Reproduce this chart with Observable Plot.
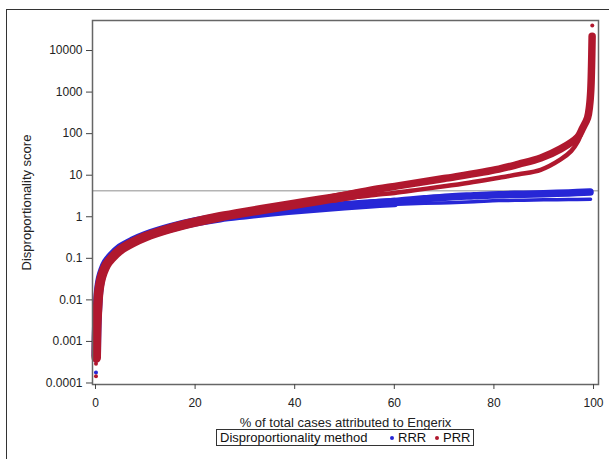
<!DOCTYPE html>
<html>
<head>
<meta charset="utf-8">
<script src="https://cdn.jsdelivr.net/npm/d3@7"></script>
<script src="https://cdn.jsdelivr.net/npm/@observablehq/plot@0.6"></script>
<style>
  html, body { margin: 0; padding: 0; background: #fff; }
  body { font-family: "Liberation Sans", Arial, sans-serif; }
  #wrap { position: relative; width: 609px; height: 459px; overflow: hidden; }
  #border { position: absolute; left: 6px; top: 9px; width: 640px; height: 480px; border: 1px solid #333; box-sizing: border-box; pointer-events: none; }
  #chart { position: absolute; left: 0; top: 0; }
  #legend { position: absolute; left: 216px; top: 429px; width: 258px; height: 17px; border: 1px solid #333; box-sizing: border-box; font-size: 13px; color: #111; background: #fff; }
  #legend span { position: absolute; top: 0px; line-height: 15px; white-space: nowrap; }
  #legend .dot { width: 4px; height: 4px; border-radius: 50%; top: 6px; }
</style>
</head>
<body>
<div id="wrap">
  <div id="chart"></div>
  <div id="border"></div>
  <div id="legend"></div>
</div>
<script>
// ---------- data ----------
const seriesNames = ["RRR", "PRR"];
const seriesColors = ["#2727d6", "#b0182e"];
const legendTitle = "Disproportionality method";
const xLabel = "% of total cases attributed to Engerix";
const yLabel = "Disproportionality score";

const xTicks = [0, 20, 40, 60, 80, 100];
const yTicks = [0.0001, 0.001, 0.01, 0.1, 1, 10, 100, 1000, 10000];
const yTickLabels = ["0.0001", "0.001", "0.01", "0.1", "1", "10", "100", "1000", "10000"];
const referenceLine = 4.24;

// RRR (blue)
const rrrMainX = [0.15, 0.2, 0.3, 0.45, 0.65, 1, 1.5, 2.2, 3.2, 5, 7.5, 10, 15, 20, 25, 30, 35, 40, 45, 50, 55, 60];
const rrrMainY = [0.00045, 0.0012, 0.0035, 0.008, 0.017, 0.032, 0.051, 0.079, 0.112, 0.178, 0.26, 0.35, 0.54, 0.75, 0.95, 1.12, 1.3, 1.47, 1.65, 1.85, 2.03, 2.2];
const rrrUpperX = [55, 58, 62, 66, 71, 76, 81, 86, 90, 95, 99.3];
const rrrUpperY = [2.1, 2.25, 2.45, 2.7, 3.0, 3.2, 3.4, 3.5, 3.6, 3.75, 3.92];
const rrrLowerX = [56, 58, 62, 66, 71, 76, 81, 86, 90, 95, 99.4];
const rrrLowerY = [1.9, 1.95, 2.02, 2.1, 2.18, 2.3, 2.45, 2.5, 2.55, 2.6, 2.64];
const rrrDotsX = [0.1, 0.1];
const rrrDotsY = [0.00034, 0.00018];

// PRR (red)
const prrMainX = [0.15, 0.2, 0.3, 0.45, 0.65, 1, 1.5, 2.2, 3.2, 5, 7.5, 10, 15, 20, 25, 30, 35, 40, 45, 50, 53];
const prrMainY = [0.0004, 0.001, 0.003, 0.007, 0.015, 0.028, 0.045, 0.07, 0.1, 0.16, 0.24, 0.33, 0.52, 0.74, 1.0, 1.28, 1.6, 2.0, 2.5, 3.1, 3.55];
const prrUpperX = [47, 50, 55, 61, 70, 81, 85, 89.4, 93.4, 96.8, 97.8, 98.8, 99.2, 99.45, 99.6, 99.72];
const prrUpperY = [2.8, 3.3, 4.3, 5.6, 8.3, 14, 18.5, 26, 43, 82, 135, 240, 460, 1100, 4000, 22000];
const prrLowerX = [48, 50, 52, 56, 60, 65, 70, 75, 81, 85, 89.4, 93.4, 95.5, 96.8, 97.6];
const prrLowerY = [2.45, 2.7, 2.95, 3.35, 3.75, 4.5, 5.4, 6.6, 8.7, 10.5, 13.5, 24, 38, 63, 110];
const prrDotsX = [0.1, 0.1, 99.75];
const prrDotsY = [0.00029, 0.000145, 40000];

// ---------- build ----------
const pts = (xs, ys) => xs.map((x, i) => ({x, y: ys[i]}));
const labelMap = new Map(yTicks.map((t, i) => [t, yTickLabels[i]]));
const [blue, red] = seriesColors;

const band = (xs, ys, color, w) => Plot.line(pts(xs, ys), {
  x: "x", y: "y", stroke: color, strokeWidth: w,
  strokeLinecap: "round", strokeLinejoin: "round", curve: "catmull-rom"
});

const chart = Plot.plot({
  width: 609,
  height: 459,
  marginLeft: 92,
  marginRight: 11,
  marginTop: 20,
  marginBottom: 75,
  style: {fontFamily: "'Liberation Sans', Arial, sans-serif", fontSize: "12px", color: "#222", background: "transparent"},
  x: {domain: [-0.6, 101]},
  y: {type: "log", domain: [0.000092, 52800]},
  marks: [
    Plot.ruleY([referenceLine], {stroke: "#b4b4b4", strokeWidth: 1.6}),
    band(rrrMainX, rrrMainY, blue, 9.5),
    band(rrrUpperX, rrrUpperY, blue, 7.5),
    band(rrrLowerX, rrrLowerY, blue, 3.5),
    Plot.dot(pts(rrrDotsX, rrrDotsY), {x: "x", y: "y", r: 2, fill: blue}),
    band(prrMainX, prrMainY, red, 9.5),
    band(prrUpperX, prrUpperY, red, 7.5),
    band(prrLowerX, prrLowerY, red, 4.5),
    Plot.dot(pts(prrDotsX, prrDotsY), {x: "x", y: "y", r: 2, fill: red}),
    Plot.frame({stroke: "#666", strokeWidth: 1.5}),
    Plot.axisX({ticks: xTicks, tickSize: 5, tickPadding: 9, fontSize: 12, stroke: "#444",
      label: xLabel, labelAnchor: "center", labelOffset: 42, labelArrow: "none"}),
    Plot.axisY({ticks: yTicks, tickFormat: d => labelMap.get(d), tickSize: 6, tickPadding: 4, fontSize: 12, stroke: "#444",
      label: yLabel, labelAnchor: "center", labelOffset: 71, labelArrow: "none"})
  ]
});
chart.querySelectorAll("g[aria-label$='axis label'] text").forEach(t => t.setAttribute("font-size", "13"));
document.getElementById("chart").appendChild(chart);

// legend (HTML)
const legend = document.getElementById("legend");
const addSpan = (text, left, cls, bg) => {
  const s = document.createElement("span");
  if (text) s.textContent = text;
  s.style.left = left + "px";
  if (cls) s.className = cls;
  if (bg) s.style.background = bg;
  legend.appendChild(s);
};
addSpan(legendTitle, 3);
addSpan(null, 173, "dot", blue);
addSpan(seriesNames[0], 181);
addSpan(null, 218, "dot", red);
addSpan(seriesNames[1], 226);
</script>
</body>
</html>
